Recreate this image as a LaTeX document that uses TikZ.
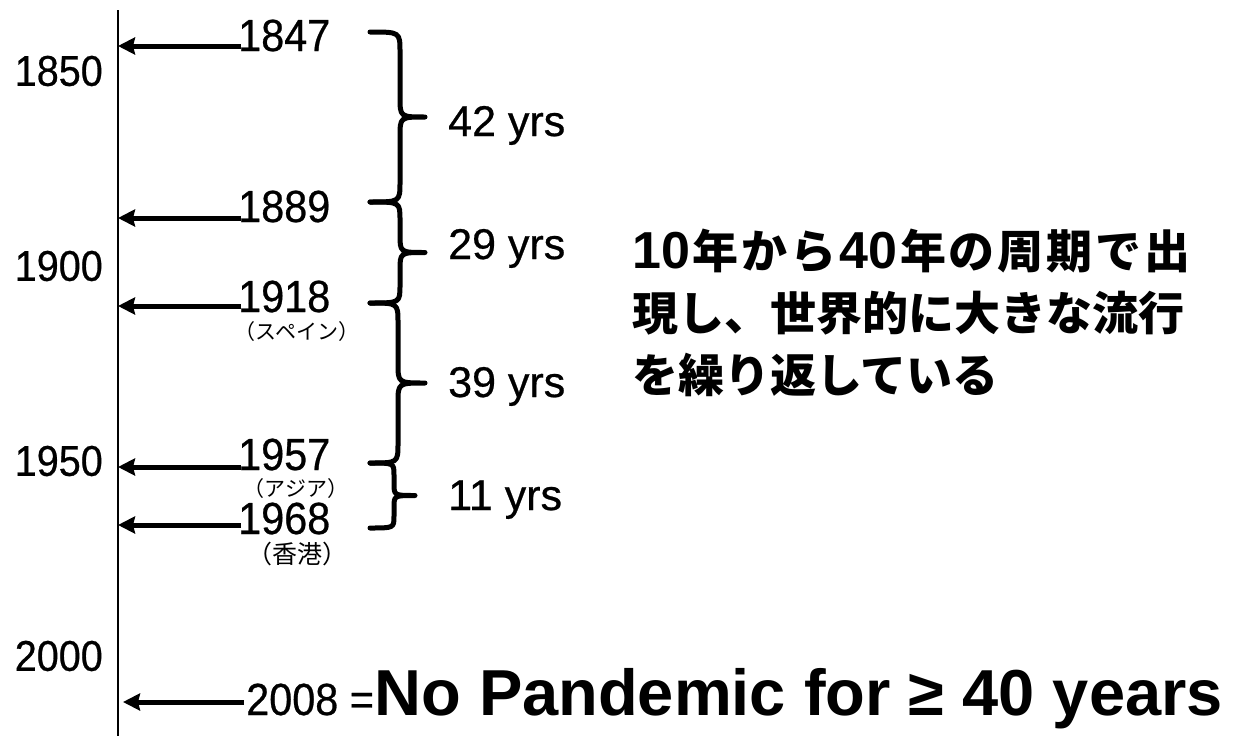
\documentclass[tikz,border=0pt]{standalone}
\usepackage{fontspec}
\setmainfont{Liberation Sans}
\newfontfamily\numfont{Liberation Sans}[FakeStretch=0.92, BoldFont={Liberation Sans}, BoldFeatures={FakeBold=0.6}]
\newfontfamily\gapfont{Liberation Sans}[BoldFont={Liberation Sans}, BoldFeatures={FakeBold=0.6}]
\newfontfamily\cjk{Noto Sans CJK JP}
\usetikzlibrary{arrows.meta}
\tikzset{
  axislab/.style={anchor=east, font=\numfont\bfseries\fontsize{43}{48}\selectfont, inner sep=0pt},
  yearlab/.style={anchor=base west, font=\numfont\bfseries\fontsize{45}{48}\selectfont, inner sep=0pt},
  sublab/.style={font=\cjk\fontsize{21}{24}\selectfont, inner sep=0pt},
  gaplab/.style={anchor=base west, font=\gapfont\bfseries\fontsize{43}{48}\selectfont, inner sep=0pt},
  jplab/.style={anchor=base west, font=\cjk\bfseries\fontsize{46}{50}\selectfont, inner sep=0pt},
  bigbold/.style={anchor=base west, font=\bfseries\fontsize{65}{70}\selectfont, inner sep=0pt},
  pointer/.style={line width=5pt, -{Stealth[length=17pt,width=17pt,inset=2pt]}},
  bracestyle/.style={line width=5pt, line cap=round, line join=round},
}
\newcommand\jpdig[1]{{\rmfamily\bfseries\fontsize{52}{50}\selectfont #1}}
% #1 x of ends, #2 top y, #3 bottom y, #4 spine x, #5 tip x, #6 curl radius
\newcommand\curlybrace[6]{%
  \draw[bracestyle] (#1,#2) .. controls (#4,#2) .. (#4,#2+#6)
    -- (#4,{(#2+#3)/2-#6})
    .. controls (#4,{(#2+#3)/2}) .. (#5,{(#2+#3)/2})
    .. controls (#4,{(#2+#3)/2}) .. (#4,{(#2+#3)/2+#6})
    -- (#4,#3-#6)
    .. controls (#4,#3) .. (#1,#3);%
}
\begin{document}
\begin{tikzpicture}[x=1pt,y=-1pt]
\useasboundingbox (0,0) rectangle (1239,736);
\fill[white] (0,0) rectangle (1239,736);
% axis
\coordinate (axtop) at (118,10);
\coordinate (axbot) at (118,736);
\draw[line width=1.6pt] (axtop) -- (axbot);
% axis labels
\node[axislab] (t1850) at (103,71) {1850};
\node[axislab] (t1900) at (103,266) {1900};
\node[axislab] (t1950) at (103,461) {1950};
\node[axislab] (t2000) at (103,656) {2000};
% events
\node[yearlab] (e1847) at (238,51) {1847};
\coordinate (s1847) at (241,46);
\draw[pointer] (s1847) -- (s1847 -| axbot);
\node[yearlab] (e1889) at (238,222) {1889};
\coordinate (s1889) at (241,218);
\draw[pointer] (s1889) -- (s1889 -| axbot);
\node[yearlab] (e1918) at (238,312) {1918};
\coordinate (s1918) at (241,306);
\draw[pointer] (s1918) -- (s1918 -| axbot);
\node[sublab] (l1918) at (297,332) {（スペイン）};
\node[yearlab] (e1957) at (238,470) {1957};
\coordinate (s1957) at (241,467);
\draw[pointer] (s1957) -- (s1957 -| axbot);
\node[sublab] (l1957) at (296,489) {（アジア）};
\node[yearlab] (e1968) at (238,534) {1968};
\coordinate (s1968) at (241,525);
\draw[pointer] (s1968) -- (s1968 -| axbot);
\node[sublab, font=\cjk\fontsize{25}{27}\selectfont] (l1968) at (297,554) {（香港）};
% braces
\curlybrace{370}{32}{202}{400}{425}{20}
\curlybrace{370}{202}{303}{400}{425}{18}
\curlybrace{370}{303}{463}{398}{425}{20}
\curlybrace{370}{463}{528}{394}{415}{12}
% gap labels
\node[gaplab] (g1) at (448,136) {42 yrs};
\node[gaplab] (g2) at (448,259) {29 yrs};
\node[gaplab] (g3) at (448,397) {39 yrs};
\node[gaplab] (g4) at (448,510) {11 yrs};
% Japanese text
\node[jplab] (jp1) at (632,268) {\makebox[558pt][l]{\jpdig{10}\hfill 年\hfill か\hfill ら\hfill \jpdig{40}\hfill 年\hfill の\hfill 周\hfill 期\hfill で\hfill 出}};
\node[jplab] (jp2) at (632,330) {現し、世界的に大きな流行};
\node[jplab] (jp3) at (632,392) {を繰り返している};
% bottom
\node[yearlab] (e2008) at (246,715) {2008 =};
\node[bigbold] (np) at (e2008.base east) {No Pandemic for ≥ 40 years};
\coordinate (s2008) at (244,702);
\draw[pointer] (s2008) -- ([xshift=5pt]s2008 -| axbot);
\end{tikzpicture}
\end{document}
